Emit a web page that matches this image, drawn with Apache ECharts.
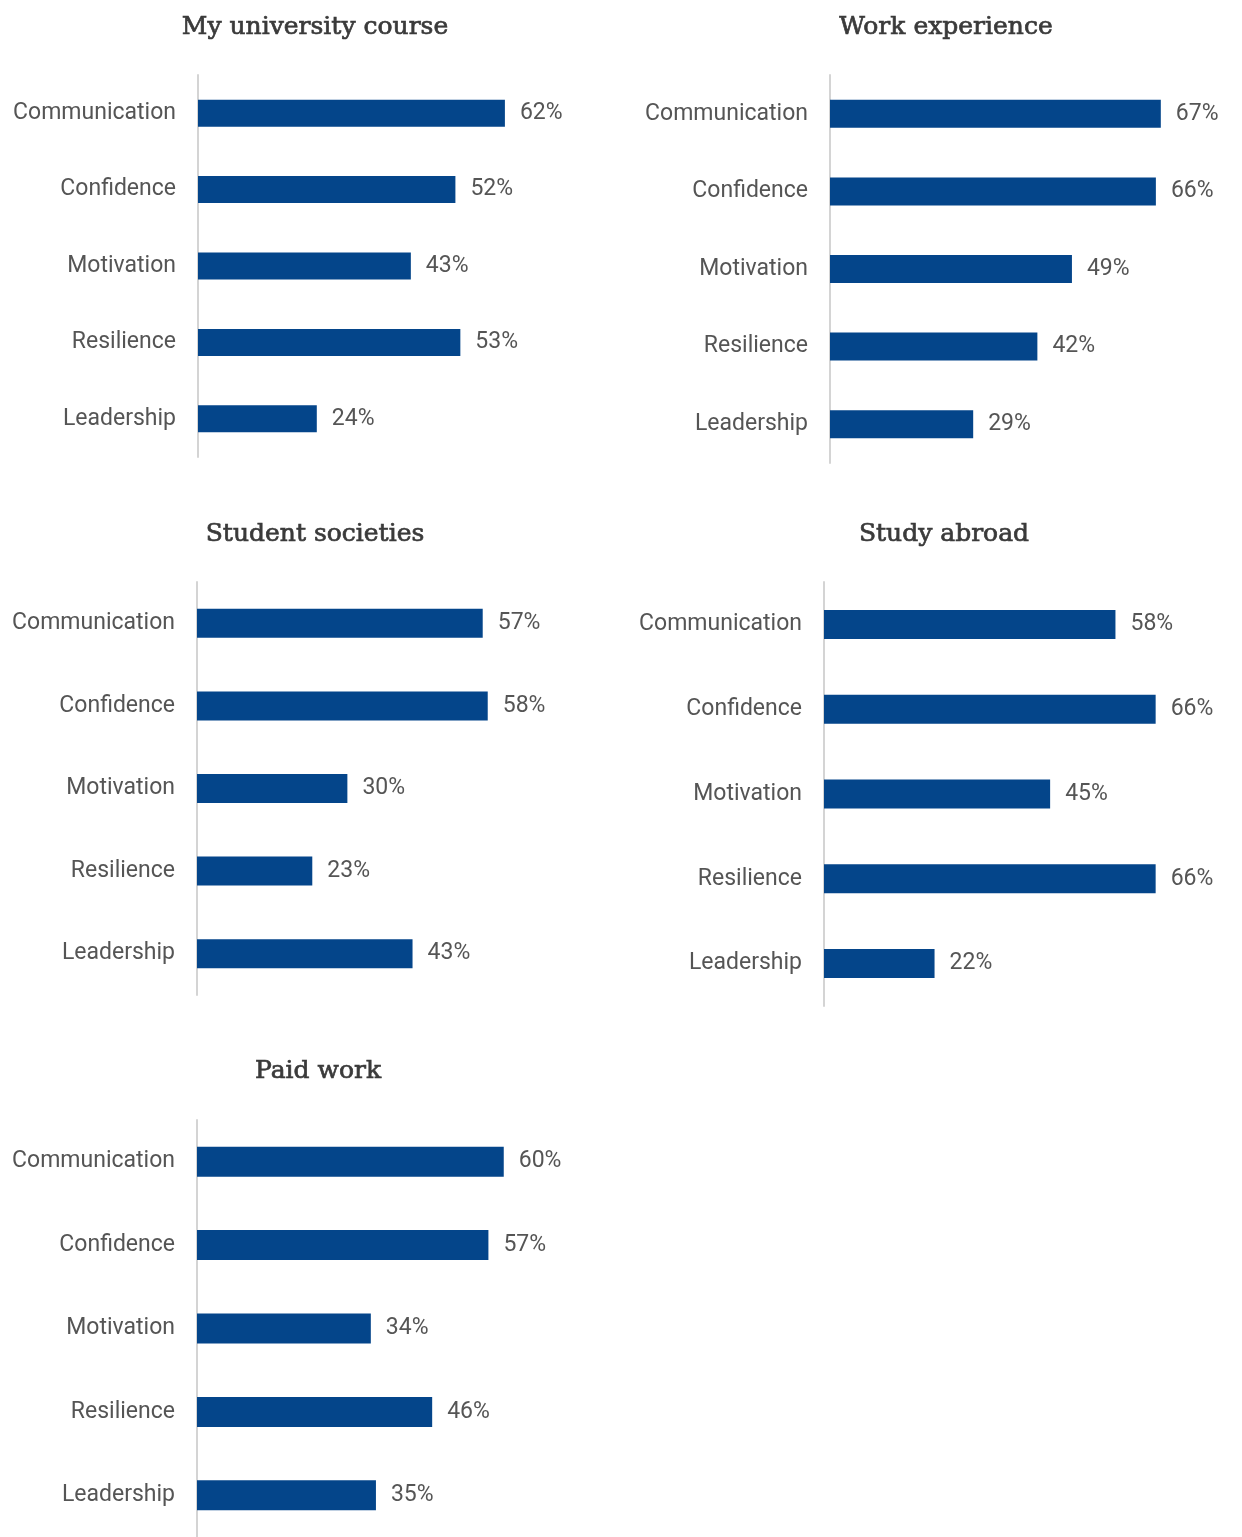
<!DOCTYPE html>
<html><head><meta charset="utf-8">
<script src="https://cdn.jsdelivr.net/npm/echarts@6/dist/echarts.min.js"></script>
<style>html,body{margin:0;padding:0;background:#fff}#c{width:1242px;height:1537px}</style>
</head><body><div id="c"></div>
<script>
const categories = ['Communication','Confidence','Motivation','Resilience','Leadership'];
const panelTitles = ['My university course','Work experience','Student societies','Study abroad','Paid work'];
const universityCourse = [62,52,43,53,24];
const workExperience = [67,66,49,42,29];
const studentSocieties = [57,58,30,23,43];
const studyAbroad = [58,66,45,66,22];
const paidWork = [60,57,34,46,35];
const panelValues = [universityCourse, workExperience, studentSocieties, studyAbroad, paidWork];
const axisMax = 80;

// layout (pixels); width corresponds to axisMax
const layout = [
  {left:198, top:75,   width:396, height:382, bar:27, tx:310, ty:10},
  {left:830, top:75,   width:395, height:388, bar:28, tx:941, ty:10},
  {left:197, top:582,  width:401, height:413, bar:29, tx:310, ty:517},
  {left:824, top:582,  width:402, height:424, bar:29, tx:939, ty:517},
  {left:197, top:1120, width:409, height:425, bar:30, tx:313, ty:1054}
];
const blue = '#04458A';
const textGray = '#555555';
const labelFont = 'Roboto, "Noto Sans", sans-serif';
const titleFont = '"DejaVu Serif", serif';

const option = {
  backgroundColor:'#fff',
  animation:false,
  title: layout.map((L,i)=>({
    text: panelTitles[i], left: L.tx, top: L.ty, textAlign:'center',
    textStyle:{fontFamily:titleFont, fontSize:25, fontWeight:'normal', color:'#3a3a3a',
      textBorderColor:'#3a3a3a', textBorderWidth:0.7}
  })),
  grid: layout.map(L=>({left:L.left, top:L.top, width:L.width, height:L.height, containLabel:false})),
  xAxis: layout.map((L,i)=>({
    type:'value', gridIndex:i, min:0, max:axisMax, show:false
  })),
  yAxis: layout.map((L,i)=>({
    type:'category', gridIndex:i, data:categories, inverse:true,
    axisLine:{show:true, lineStyle:{color:'#d4d4d4', width:2}},
    axisTick:{show:false},
    axisLabel:{fontFamily:labelFont, fontSize:23, color:textGray, margin:22}
  })),
  series: panelValues.map((vals,i)=>({
    type:'bar', xAxisIndex:i, yAxisIndex:i, data:vals, barWidth:layout[i].bar,
    itemStyle:{color:blue},
    label:{show:true, position:'right', distance:15, formatter:'{c}%',
      fontFamily:labelFont, fontSize:23, color:textGray}
  }))
};
echarts.init(document.getElementById('c'), null, {renderer:'canvas'}).setOption(option);
</script>
</body></html>
